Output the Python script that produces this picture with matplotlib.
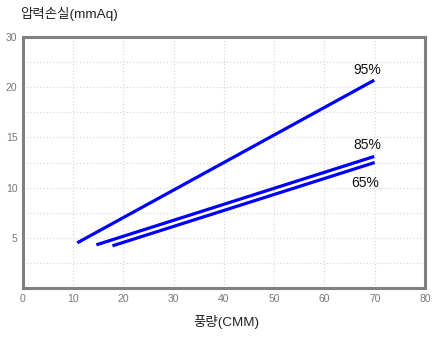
import matplotlib
matplotlib.use("Agg")
from matplotlib import pyplot as plt

plt.rcParams['font.family'] = ['Liberation Sans', 'Noto Sans CJK KR', 'DejaVu Sans']

# pressure loss curves per filter efficiency: (flow CMM, loss mmAq)
labels = ['95%', '85%', '65%']
flow = [[10.8, 69.9], [14.6, 69.9], [17.8, 70.0]]
loss = [[4.5, 20.7], [4.3, 13.1], [4.2, 12.5]]
label_pos = [(68.5, 21.7), (68.5, 14.2), (68.1, 10.5)]

x_ticks = [0, 10, 20, 30, 40, 50, 60, 70, 80]
y_ticks = [5, 10, 15, 20, 25]
y_tick_labels = ['5', '10', '15', '20', '30']

fig = plt.figure(figsize=(4.39, 3.37), dpi=100)
ax = fig.add_axes([23 / 439, 1 - 288 / 337, 402 / 439, 251 / 337])

for xs, ys in zip(flow, loss):
    ax.plot(xs, ys, color='#0000ff', lw=2.3, solid_capstyle='butt')
for lab, (tx, ty) in zip(labels, label_pos):
    ax.text(tx, ty, lab, ha='center', va='center', fontsize=10, color='#111111')

ax.set_xlim(0, 80)
ax.set_ylim(0, 25)
ax.set_xticks(x_ticks)
ax.set_yticks(y_ticks)
ax.set_yticklabels(y_tick_labels)
ax.set_yticks([2.5 * i for i in range(1, 10)], minor=True)
ax.tick_params(length=0, labelsize=7.5, colors='#777777', pad=4)
ax.tick_params(which='minor', length=0)
ax.grid(True, which='both', color='#d4d4d4', ls=(0, (1, 2)), lw=0.8)
ax.set_axisbelow(True)
for sp in ax.spines.values():
    sp.set_color('#808080')
    sp.set_linewidth(2.2)

fig.text(20 / 439, 1 - 14 / 337, '압력손실(mmAq)', ha='left', va='center', fontsize=9.7, color='#222222')
fig.text(226 / 439, 1 - 322 / 337, '풍량(CMM)', ha='center', va='center', fontsize=9.7, color='#222222')

fig.savefig('out.png', dpi=100)
